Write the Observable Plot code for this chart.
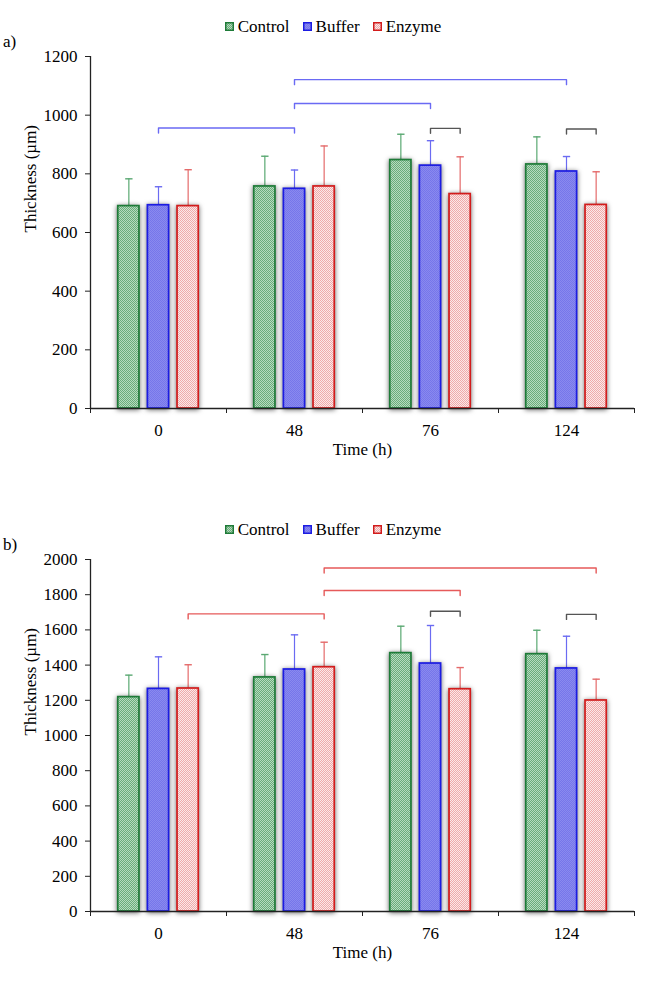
<!DOCTYPE html>
<html><head><meta charset="utf-8">
<script src="https://cdn.jsdelivr.net/npm/d3@7"></script>
<script src="https://cdn.jsdelivr.net/npm/@observablehq/plot@0.6"></script>
<style>
body{margin:0;background:#fff;font-family:'Liberation Serif','Times New Roman',Times,'DejaVu Serif',serif;color:#000;}
.panel{position:relative;width:650px;height:503px;}
.legend{height:40px;box-sizing:border-box;padding-top:13px;display:flex;justify-content:center;gap:13px;font-size:17px;line-height:20px;padding-left:16px;}
.legend .item{display:flex;align-items:center;gap:4px;}
.legend svg{display:block;}
.tag{position:absolute;left:3px;top:32px;font-size:17px;}
</style></head><body>
<svg width="0" height="0" style="position:absolute">
<defs>
<pattern id="pat-control" width="2" height="2" patternUnits="userSpaceOnUse">
<rect width="2" height="2" fill="#b6dbbf"/><rect x="0" y="0" width="1" height="1" fill="#6aac7b"/><rect x="1" y="1" width="1" height="1" fill="#6aac7b"/>
</pattern>
<pattern id="pat-buffer" width="2" height="2" patternUnits="userSpaceOnUse">
<rect width="2" height="2" fill="#8a8aef"/><rect x="0" y="0" width="1" height="1" fill="#7676ea"/><rect x="1" y="1" width="1" height="1" fill="#7676ea"/>
</pattern>
<pattern id="pat-enzyme" width="2" height="2" patternUnits="userSpaceOnUse">
<rect width="2" height="2" fill="#fbe8e8"/><rect x="0" y="0" width="1" height="1" fill="#efaaaa"/><rect x="1" y="1" width="1" height="1" fill="#efaaaa"/>
</pattern>
</defs>
</svg>
<div id="chart"></div>
<script>
// ---- data ----
const times = ["0", "48", "76", "124"];
const series = ["Control", "Buffer", "Enzyme"];

// panel a) thickness (µm), means and SD
const aControl = [690, 757, 847, 832];
const aBuffer  = [693, 749, 828, 808];
const aEnzyme  = [690, 757, 731, 694];
const aControlSD = [93, 103, 88, 94];
const aBufferSD  = [63, 64, 85, 51];
const aEnzymeSD  = [124, 138, 127, 113];
const aYTicks = [0, 200, 400, 600, 800, 1000, 1200];
const aBrackets = [
  {t1: "0",   s1: "Buffer", t2: "48",  s2: "Buffer", level: 956,  kind: "across"},
  {t1: "48",  s1: "Buffer", t2: "76",  s2: "Buffer", level: 1040, kind: "across"},
  {t1: "48",  s1: "Buffer", t2: "124", s2: "Buffer", level: 1121, kind: "across"},
  {t1: "76",  s1: "Buffer", t2: "76",  s2: "Enzyme", level: 955,  kind: "within"},
  {t1: "124", s1: "Buffer", t2: "124", s2: "Enzyme", level: 953,  kind: "within"}
];

// panel b)
const bControl = [1218, 1330, 1468, 1462];
const bBuffer  = [1265, 1375, 1409, 1381];
const bEnzyme  = [1267, 1388, 1263, 1199];
const bControlSD = [125, 130, 153, 136];
const bBufferSD  = [182, 197, 216, 183];
const bEnzymeSD  = [135, 142, 123, 121];
const bYTicks = [0, 200, 400, 600, 800, 1000, 1200, 1400, 1600, 1800, 2000];
const bBrackets = [
  {t1: "0",   s1: "Enzyme", t2: "48",  s2: "Enzyme", level: 1691, kind: "across"},
  {t1: "48",  s1: "Enzyme", t2: "76",  s2: "Enzyme", level: 1824, kind: "across"},
  {t1: "48",  s1: "Enzyme", t2: "124", s2: "Enzyme", level: 1952, kind: "across"},
  {t1: "76",  s1: "Buffer", t2: "76",  s2: "Enzyme", level: 1706, kind: "within"},
  {t1: "124", s1: "Buffer", t2: "124", s2: "Enzyme", level: 1688, kind: "within"}
];

// ---- styles ----
const seriesStyle = {
  Control: {fill: "url(#pat-control)", stroke: "#1e7b38", err: "#5aa872"},
  Buffer:  {fill: "url(#pat-buffer)",  stroke: "#1c1ce2", err: "#6b6bf2"},
  Enzyme:  {fill: "url(#pat-enzyme)",  stroke: "#d21c1c", err: "#e46a6a"}
};
const OFFSET = 0.218, HALF = 0.078, CAP = 0.027;
const FONT = "'Liberation Serif','Times New Roman',Times,'DejaVu Serif',serif";

function pos(t, s) { return times.indexOf(t) + (series.indexOf(s) - 1) * OFFSET; }

function legend() {
  const div = document.createElement("div");
  div.className = "legend";
  for (const s of series) {
    const st = seriesStyle[s];
    const item = document.createElement("div");
    item.className = "item";
    item.innerHTML = `<svg width="9" height="9"><rect x="0.75" y="0.75" width="7.5" height="7.5" fill="${st.fill}" stroke="${st.stroke}" stroke-width="1.5"/></svg><span>${s}</span>`;
    div.appendChild(item);
  }
  return div;
}

function panel(tag, means, sds, yMax, yTicks, brackets, acrossColor) {
  const rows = [];
  series.forEach((s, si) => times.forEach((t, ti) => rows.push({time: t, series: s, value: means[si][ti], sd: sds[si][ti]})));
  const drop = 5 * yMax / 352;
  const bracketPts = [];
  brackets.forEach((b, i) => {
    const x1 = pos(b.t1, b.s1), x2 = pos(b.t2, b.s2);
    bracketPts.push({id: i, kind: b.kind, x: x1, y: b.level - drop},
                    {id: i, kind: b.kind, x: x1, y: b.level},
                    {id: i, kind: b.kind, x: x2, y: b.level},
                    {id: i, kind: b.kind, x: x2, y: b.level - drop});
  });
  const marks = [];
  for (const s of series) {
    const st = seriesStyle[s];
    const d = rows.filter(r => r.series === s);
    marks.push(Plot.ruleX(d, {x: r => pos(r.time, r.series), y1: "value", y2: r => r.value + r.sd, stroke: st.err, strokeWidth: 1.2}));
    marks.push(Plot.link(d, {x1: r => pos(r.time, r.series) - CAP, x2: r => pos(r.time, r.series) + CAP, y1: r => r.value + r.sd, y2: r => r.value + r.sd, stroke: st.err, strokeWidth: 1.4}));
  }
  for (const s of series) {
    const st = seriesStyle[s];
    const d = rows.filter(r => r.series === s);
    marks.push(Plot.rect(d, {x1: r => pos(r.time, r.series) - HALF, x2: r => pos(r.time, r.series) + HALF, y1: 0, y2: "value",
      fill: st.fill, stroke: st.stroke, strokeWidth: 1.7, imageFilter: "drop-shadow(0px 1px 2.5px rgba(0,0,0,0.6))"}));
  }
  marks.push(
    Plot.line(bracketPts.filter(p => p.kind === "across"), {x: "x", y: "y", z: "id", stroke: acrossColor, strokeWidth: 1.4, curve: "linear"}),
    Plot.line(bracketPts.filter(p => p.kind === "within"), {x: "x", y: "y", z: "id", stroke: "#555", strokeWidth: 1.4, curve: "linear"}),
    Plot.ruleY([0], {stroke: "#222", strokeWidth: 1.3}),
    Plot.ruleX([-0.5], {stroke: "#222", strokeWidth: 1.3}),
    Plot.axisY({ticks: yTicks, tickSize: 5, tickPadding: 8, tickFormat: d => String(d), label: null, stroke: "#222", fontSize: 17}),
    Plot.axisX({ticks: [-0.5, 0.5, 1.5, 2.5, 3.5], tickSize: 5, tickFormat: () => "", label: null, stroke: "#222"}),
    Plot.axisX({ticks: [0, 1, 2, 3], tickSize: 0, tickPadding: 15, tickFormat: i => times[i], label: null, fontSize: 17}),
    Plot.text(["Time (h)"], {text: d => d, frameAnchor: "bottom", dy: 46, fontSize: 17}),
    Plot.text(["Thickness (\u00b5m)"], {text: d => d, frameAnchor: "left", rotate: -90, dx: -60, fontSize: 17})
  );
  const plot = Plot.plot({
    width: 650, height: 463,
    marginLeft: 90, marginRight: 16, marginTop: 16, marginBottom: 95,
    x: {domain: [-0.5, 3.5], axis: null},
    y: {domain: [0, yMax], axis: null},
    style: {fontFamily: FONT, fontSize: "17px", background: "transparent", overflow: "visible", color: "#000"},
    marks
  });
  plot.setAttribute("font-family", FONT);
  plot.style.fontFamily = FONT;
  const div = document.createElement("div");
  div.className = "panel";
  div.appendChild(legend());
  const t = document.createElement("div");
  t.className = "tag";
  t.textContent = tag;
  div.appendChild(t);
  div.appendChild(plot);
  return div;
}

const chart = document.getElementById("chart");
chart.appendChild(panel("a)", [aControl, aBuffer, aEnzyme], [aControlSD, aBufferSD, aEnzymeSD], 1200, aYTicks, aBrackets, "#6a6af4"));
chart.appendChild(panel("b)", [bControl, bBuffer, bEnzyme], [bControlSD, bBufferSD, bEnzymeSD], 2000, bYTicks, bBrackets, "#e65a5a"));
</script>
</body></html>
